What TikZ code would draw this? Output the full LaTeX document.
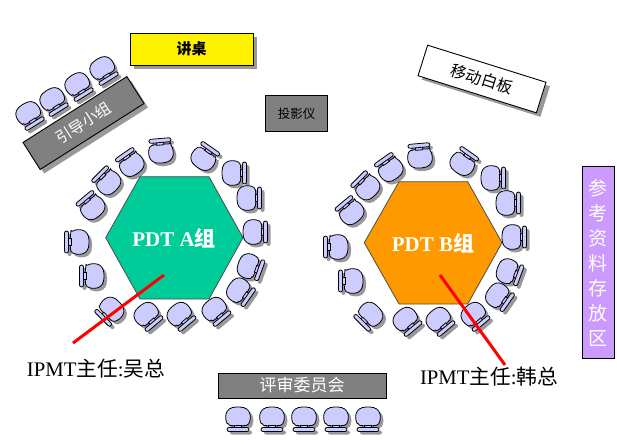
\documentclass[tikz,border=0pt]{standalone}
\usepackage{fontspec}
\setmainfont{Liberation Serif}
\newfontfamily\cjk{Noto Sans CJK SC}
\definecolor{seatcol}{RGB}{204,204,255}
\definecolor{shadecol}{RGB}{128,128,128}
\definecolor{boardgray}{RGB}{128,128,128}
\definecolor{teamA}{RGB}{0,204,153}
\definecolor{teamB}{RGB}{255,153,0}
\definecolor{purplebox}{RGB}{204,153,255}
\tikzset{
  shadowed/.style={preaction={fill=shadecol!80,draw=none,transform canvas={shift={(4pt,-4pt)}}}},
  boxnode/.style={draw=black,line width=0.9pt,inner sep=0pt},
  redline/.style={draw=red,line width=3pt},
  seatline/.style={draw=black,line width=0.8pt,fill=seatcol},
  hexline/.style={draw=black!70,line width=0.8pt},
}
% seat shape: the back points along +x
\newcommand{\seatpaths}[1]{%
  \path[#1,rounded corners=1.5pt] (8,-10) .. controls (2,-13.5) and (-10,-14) .. (-10,0) .. controls (-10,14) and (2,13.5) .. (8,10) .. controls (9,5) and (9,-5) .. (8,-10) -- cycle;
  \path[#1] (8,-3.5) rectangle (11,3.5);
  \path[#1,rounded corners=2pt] (10.5,-11) rectangle (14.5,11);
}
\newcommand{\seatat}[3]{%
  \begin{scope}[shift={(#1+3,#2+3)},rotate=#3,x=1pt,y=1pt]
    \seatpaths{fill=shadecol!80}
  \end{scope}
  \begin{scope}[shift={(#1,#2)},rotate=#3,x=1pt,y=1pt]
    \seatpaths{seatline}
  \end{scope}
}
\newcommand{\teamseats}[2]{%
  \foreach \sx/\sy/\sa in {161/153/95,203/159/55,232/173/0,247/198/0,253/232/0,248/266/-20,238/290/-35,214/309/-50,179/314/-50,146/314/-50,112/309/-135,94/276/180,79/242/180,93/208/130,109/183/135,132/165/125}{
    \pgfmathsetmacro{\px}{\sx+#1}\pgfmathsetmacro{\py}{\sy+#2}
    \seatat{\px}{\py}{\sa}
  }
}
\begin{document}
\begin{tikzpicture}[x=1pt,y=-1pt]
\useasboundingbox (0,0) rectangle (617,445);

% seats round the two team tables
\teamseats{0}{0}
\teamseats{259}{5}

% guide group
\foreach \sx/\sy in {28/113,52/99,77/84,102/68}{\seatat{\sx}{\sy}{-58}}
\node[boxnode,shadowed,fill=boardgray,minimum width=123pt,minimum height=32pt,rotate=32.4,text=white,font=\cjk\fontsize{15.5}{15.5}\selectfont] (guide) at (83.5,123) {引导小组};

% review board seats
\foreach \sx in {238,272,304,336,368}{\seatat{\sx}{417}{-90}}
\node[boxnode,fill=boardgray,minimum width=168pt,minimum height=25pt,text=white,font=\cjk\fontsize{17}{17}\selectfont] (review) at (302,385.5) {评审委员会};

% furniture
\node[boxnode,shadowed,fill=yellow,minimum width=123pt,minimum height=32pt,font=\cjk\fontsize{15}{15}\selectfont\bfseries] (desk) at (191.5,49) {讲桌};
\node[boxnode,fill=boardgray,minimum width=62pt,minimum height=36pt,font=\cjk\fontsize{12.5}{12.5}\selectfont] (projector) at (296.5,113.5) {投影仪};
\node[boxnode,shadowed,fill=white,minimum width=124pt,minimum height=32pt,rotate=-17.4,font=\cjk\fontsize{16}{16}\selectfont] (whiteboard) at (482,79) {移动白板};
\node[boxnode,fill=purplebox,minimum width=32pt,minimum height=192pt,text=white,align=center,font=\cjk\fontsize{19}{25}\selectfont] (materials) at (598,262.5) {参\\考\\资\\料\\存\\放\\区};

% team tables
\path[hexline,fill=teamA] (105.7,237.7) -- (140,176.7) -- (209,176.7) -- (243,237.7) -- (209,299) -- (140,299) -- cycle;
\path[hexline,fill=teamB] (364.3,242.7) -- (399,181.7) -- (467.7,181.7) -- (502,242.7) -- (467.7,304) -- (399,304) -- cycle;
\node[text=white,font=\fontsize{21}{21}\selectfont\bfseries,inner sep=0pt] (teamAname) at (174,238) {PDT A{\cjk 组}};
\node[text=white,font=\fontsize{21}{21}\selectfont\bfseries,inner sep=0pt] (teamBname) at (433,243) {PDT B{\cjk 组}};

% directors
\node[font=\fontsize{20.7}{20.7}\selectfont,inner sep=0pt] (directorA) at (96,369) {IPMT{\cjk 主任}:{\cjk 吴总}};
\node[font=\fontsize{20.7}{20.7}\selectfont,inner sep=0pt] (directorB) at (489,377) {IPMT{\cjk 主任}:{\cjk 韩总}};
\coordinate (pointA) at (164,275);
\coordinate (tailA) at (73,343);
\coordinate (pointB) at (440,275);
\coordinate (tailB) at (505,365);
\draw[redline] (pointA) -- (tailA);
\draw[redline] (pointB) -- (tailB);
\end{tikzpicture}
\end{document}
